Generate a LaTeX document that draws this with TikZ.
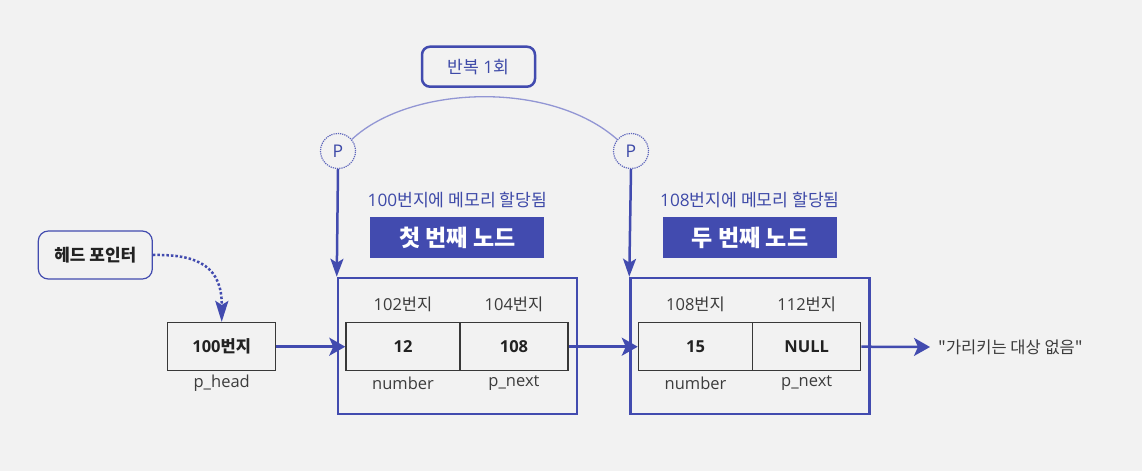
\documentclass[tikz,border=0pt]{standalone}
\usepackage{fontspec}
\setmainfont{Noto Sans CJK KR}
\newfontfamily\lat{Open Sans}
\newfontfamily\plainkr{Noto Sans CJK KR}
\usetikzlibrary{arrows.meta}
\definecolor{bg}{HTML}{F2F2F2}
\definecolor{mainblue}{HTML}{424BAF}
\definecolor{textblue}{HTML}{3E4AA8}
\definecolor{arcblue}{HTML}{9296D4}
\definecolor{darktext}{HTML}{222222}
\definecolor{graytext}{HTML}{3C3C3C}
\definecolor{cellline}{HTML}{383838}
\tikzset{
  base/.style={font=\fontsize{16.5}{19}\selectfont, text=graytext},
  cell/.style={draw=cellline, line width=1.5pt, fill=bg, inner sep=0pt, minimum height=48pt, font=\fontsize{16.5}{19}\selectfont\bfseries, text=darktext},
  outerbox/.style={draw=mainblue, line width=2.5pt, inner sep=0pt, minimum width=239pt, minimum height=136pt},
  headerbox/.style={fill=mainblue, text=white, inner sep=0pt, minimum width=174pt, minimum height=41pt, font=\fontsize{23}{26}\selectfont\bfseries},
  bluelabel/.style={font=\fontsize{17.2}{20}\selectfont, text=textblue},
  pcircle/.style={circle, draw=mainblue!85, densely dotted, line width=1.2pt, minimum size=35pt, inner sep=0pt, font=\fontsize{17.5}{19}\selectfont\lat, text=textblue},
  harrow/.style={draw=mainblue, line width=2.5pt, -{Stealth[length=16pt,width=18pt,inset=4pt]}},
  varrow/.style={draw=mainblue, line width=2.5pt, -{Stealth[length=18pt,width=13pt,inset=4pt]}},
}
\begin{document}
\begin{tikzpicture}[x=1pt,y=-1pt]
\fill[bg] (0,0) rectangle (1142,471);
\useasboundingbox (0,0) rectangle (1142,471);

% repeat label
\node[draw=mainblue, line width=2.5pt, rounded corners=8pt, minimum width=113pt, minimum height=40pt, inner sep=0pt, bluelabel] (rep) at (478.5,66.7) {반복 {\lat 1}회};

% P circles
\node[pcircle] (p1) at (338,151) {P};
\node[pcircle] (p2) at (631,151) {P};
\draw[arcblue, line width=1.3pt] (p1.40) .. controls (410,85) and (550,80) .. (p2.140);

% head pointer
\node[draw=mainblue, line width=1.2pt, rounded corners=10pt, minimum width=114pt, minimum height=48pt, inner sep=0pt, font=\fontsize{17}{19}\selectfont\bfseries, text=darktext] (hp) at (95.3,255) {헤드 포인터};
\node[cell, minimum width=108pt] (head) at (221.7,346.7) {{\lat\bfseries 100}번지};
\node[base] (headlbl) at (221.7,383.5) {\lat p\_head};
\draw[mainblue, line width=2.5pt, dotted, -{Stealth[length=21pt,width=13pt,inset=4pt]}] (hp.east) .. controls (200,254) and (222,268) .. (head.north);

% first node
\node[outerbox] (n1) at (457.5,346) {};
\node[bluelabel] (alloc1) at (457.5,199.5) {{\lat 100}번지에 메모리 할당됨};
\node[headerbox] (h1) at (457.3,237.5) {첫 번째 노드};
\node[base] (a102) at (403,304) {{\lat 102}번지};
\node[base] (a104) at (514,304) {{\lat 104}번지};
\node[cell, minimum width=114pt] (c12) at (403,346.7) {\lat\bfseries 12};
\node[cell, minimum width=108pt] (c108) at (514,346.7) {\lat\bfseries 108};
\node[base] (num1) at (403,383.5) {\lat number};
\node[base] (nx1) at (514,383.5) {\lat p\_next};

% second node
\node[outerbox] (n2) at (750,346) {};
\node[bluelabel] (alloc2) at (750,199.5) {{\lat 108}번지에 메모리 할당됨};
\node[headerbox] (h2) at (750,237.5) {두 번째 노드};
\node[base] (a108) at (695.5,304) {{\lat 108}번지};
\node[base] (a112) at (806.7,304) {{\lat 112}번지};
\node[cell, minimum width=114pt] (c15) at (695.5,346.7) {\lat\bfseries 15};
\node[cell, minimum width=108pt] (cnull) at (806.7,346.7) {\lat\bfseries NULL};
\node[base] (num2) at (695.5,383.5) {\lat number};
\node[base] (nx2) at (806.7,383.5) {\lat p\_next};

\node[base, anchor=west, inner sep=0pt] (none) at (938,347) {\plainkr "가리키는 대상 없음"};
\coordinate (noneend) at (930,347);

% arrows
\draw[varrow] (p1.south) -- (n1.north west);
\draw[varrow] (p2.south) -- (n2.north west);
\draw[harrow] (head.east) -- (c12.west);
\draw[harrow] (c108.east) -- (c15.west);
\draw[harrow] (cnull.east) -- (noneend);
\end{tikzpicture}
\end{document}
